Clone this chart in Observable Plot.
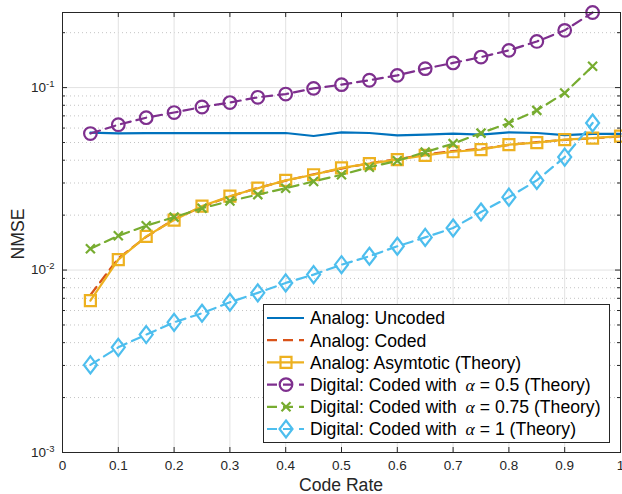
<!DOCTYPE html>
<html><head><meta charset="utf-8">
<script src="https://cdn.jsdelivr.net/npm/d3@7"></script>
<script src="https://cdn.jsdelivr.net/npm/@observablehq/plot@0.6"></script>
<style>
body{margin:0;background:#fff}
#chart{position:relative;width:622px;height:494px;overflow:hidden}
</style>
</head><body><div id="chart"></div>
<script>
// ---- data ----
const rates = [0.05,0.1,0.15,0.2,0.25,0.3,0.35,0.4,0.45,0.5,0.55,0.6,0.65,0.7,0.75,0.8,0.85,0.9,0.95];
const ratesFull = [0.05,0.1,0.15,0.2,0.25,0.3,0.35,0.4,0.45,0.5,0.55,0.6,0.65,0.7,0.75,0.8,0.85,0.9,0.95,1.0];
const analogUncoded = [0.0566,0.0561,0.0563,0.0563,0.0563,0.0563,0.0563,0.0564,0.0543,0.0568,0.0564,0.0547,0.0552,0.0559,0.0552,0.0568,0.0564,0.0549,0.0557,0.0557];
const analogCoded = [0.0073,0.0116,0.0152,0.0190,0.0222,0.0253,0.0282,0.0309,0.0335,0.0360,0.0385,0.0405,0.0430,0.0449,0.0462,0.0485,0.0502,0.0517,0.0527,0.0540];
const analogAsym = [0.0068,0.0114,0.0153,0.0188,0.0224,0.0254,0.0281,0.0310,0.0333,0.0363,0.0383,0.0403,0.0425,0.0445,0.0457,0.0487,0.0499,0.0519,0.0529,0.0542];
const digital050 = [0.0560,0.0626,0.0684,0.0730,0.0783,0.0828,0.0885,0.0922,0.0990,0.1038,0.1097,0.1167,0.1270,0.1365,0.1470,0.1600,0.1790,0.2060,0.2580];
const digital075 = [0.0131,0.0154,0.0175,0.0195,0.0218,0.0239,0.0259,0.0281,0.0306,0.0333,0.0366,0.0397,0.0443,0.0493,0.0563,0.0640,0.0750,0.0934,0.1310];
const digital100 = [0.00302,0.00377,0.00443,0.00517,0.00580,0.00666,0.00750,0.00850,0.00944,0.0107,0.0119,0.0135,0.0151,0.0170,0.0208,0.0251,0.0310,0.0416,0.0640];
const xTicks = [0,0.1,0.2,0.3,0.4,0.5,0.6,0.7,0.8,0.9,1];
const yTicks = [0.001,0.01,0.1];
const yTickLabels = ["10^-3","10^-2","10^-1"];
const seriesNames = ["Analog: Uncoded","Analog: Coded","Analog: Asymtotic (Theory)",
  "Digital: Coded with |α| = 0.5 (Theory)","Digital: Coded with |α| = 0.75 (Theory)","Digital: Coded with |α| = 1 (Theory)"];

// ---- styles ----
const symbols = {
  circle: {draw(c){ c.moveTo(6.3,0); c.arc(0,0,6.3,0,2*Math.PI); }},
  square: {draw(c){ c.rect(-5.5,-5.5,11,11); }},
  times: {draw(c){ c.moveTo(-4.5,-4.5); c.lineTo(4.5,4.5); c.moveTo(4.5,-4.5); c.lineTo(-4.5,4.5); }},
  diamond: {draw(c){ c.moveTo(0,-8.5); c.lineTo(6.5,0); c.lineTo(0,8.5); c.lineTo(-6.5,0); c.closePath(); }}
};
const series = [
  {name: seriesNames[0], x: ratesFull, y: analogUncoded, color: "#0072BD", dash: null, sym: null},
  {name: seriesNames[1], x: ratesFull, y: analogCoded, color: "#D95319", dash: "10,6", sym: null},
  {name: seriesNames[2], x: ratesFull, y: analogAsym, color: "#EDB120", dash: null, sym: symbols.square},
  {name: seriesNames[3], x: rates, y: digital050, color: "#7E2F8E", dash: "10,6", sym: symbols.circle},
  {name: seriesNames[4], x: rates, y: digital075, color: "#77AC30", dash: "10,6", sym: symbols.times},
  {name: seriesNames[5], x: rates, y: digital100, color: "#4DBEEE", dash: "10,6", sym: symbols.diamond}
];
const yMinor = yTicks.flatMap(d => d3.range(2,10).map(k => k*d)).filter(v => v < 0.258);
const labelOf = new Map(yTicks.map((d,i) => [d, yTickLabels[i]]));
const ink = "#262626";
const lw = 2.2;

const marks = [
  Plot.ruleY(yMinor, {stroke: "#c4c4c4", strokeDasharray: "1,3"}),
  Plot.ruleY(yTicks, {stroke: "#e2e2e2"}),
  Plot.ruleX(xTicks, {stroke: "#e2e2e2"})
];
for (const s of series) {
  const data = s.x.map((x,i) => ({x, y: s.y[i]}));
  marks.push(Plot.line(data, {x: "x", y: "y", stroke: s.color, strokeWidth: lw, strokeDasharray: s.dash}));
  if (s.sym) marks.push(Plot.dot(data, {x: "x", y: "y", stroke: s.color, strokeWidth: lw, fill: "none", symbol: s.sym}));
}
marks.push(
  Plot.tickX(xTicks, {x: d => d, stroke: ink, insetTop: 435}),
  Plot.tickX(xTicks, {x: d => d, stroke: ink, insetBottom: 435}),
  Plot.tickY(yTicks, {y: d => d, stroke: ink, insetRight: 553}),
  Plot.tickY(yTicks, {y: d => d, stroke: ink, insetLeft: 553}),
  Plot.tickY(yMinor, {y: d => d, stroke: ink, insetRight: 555}),
  Plot.tickY(yMinor, {y: d => d, stroke: ink, insetLeft: 555}),
  Plot.frame({stroke: ink}),
  Plot.axisX(xTicks, {tickSize: 0, tickPadding: 8, label: null, tickFormat: d => String(d), fill: ink}),
  Plot.axisY(yTicks, {tickSize: 0, tickPadding: 8, label: null, tickFormat: d => labelOf.get(d), fill: ink})
);

const plot = Plot.plot({
  width: 622, height: 494,
  marginLeft: 62, marginRight: 2, marginTop: 12, marginBottom: 42,
  x: {domain: [0, 1]},
  y: {type: "log", domain: [0.001, 0.258]},
  style: {fontFamily: "'Liberation Sans', Arial, Helvetica, sans-serif", fontSize: "13.5px", color: ink, background: "white"},
  marks
});
document.getElementById("chart").appendChild(plot);

const svg = d3.select(plot);
// superscript exponents on y tick labels
svg.selectAll('g[aria-label="y-axis tick label"] text').each(function() {
  const [base, exp] = this.textContent.split("^");
  this.textContent = base;
  d3.select(this).append("tspan").attr("dy", "-0.55em").attr("font-size", "9.5px").text(exp);
});
// axis titles
svg.append("text").attr("x", 341).attr("y", 491).attr("text-anchor", "middle")
  .attr("font-size", "17.6px").attr("fill", ink).text("Code Rate");
svg.append("text").attr("transform", "translate(24,234) rotate(-90)").attr("text-anchor", "middle")
  .attr("font-size", "17.6px").attr("fill", ink).text("NMSE");

// legend
const lg = svg.append("g").attr("text-anchor", "start");
lg.append("rect").attr("x", 263.5).attr("y", 304.5).attr("width", 346).attr("height", 138)
  .attr("fill", "white").attr("stroke", ink);
series.forEach((s, i) => {
  const cy = 318 + i * 22.2;
  lg.append("line").attr("x1", 267).attr("x2", 304).attr("y1", cy).attr("y2", cy)
    .attr("stroke", s.color).attr("stroke-width", lw).attr("stroke-dasharray", s.dash);
  if (s.sym) {
    const p = d3.path(); s.sym.draw(p);
    lg.append("path").attr("d", p.toString()).attr("transform", `translate(286,${cy})`)
      .attr("fill", "none").attr("stroke", s.color).attr("stroke-width", lw);
  }
  const t = lg.append("text").attr("x", 310).attr("y", cy + 6.3).attr("text-anchor", "start")
    .attr("font-size", "17.6px").attr("fill", "#000");
  const parts = s.name.split("|");
  t.append("tspan").text(parts[0]);
  if (parts.length > 1) {
    t.append("tspan").attr("dx", 4).attr("font-family", "'Liberation Serif', 'DejaVu Serif', serif")
      .attr("font-style", "italic").text(parts[1]);
    t.append("tspan").text(parts[2]);
  }
});
</script>
</body></html>
